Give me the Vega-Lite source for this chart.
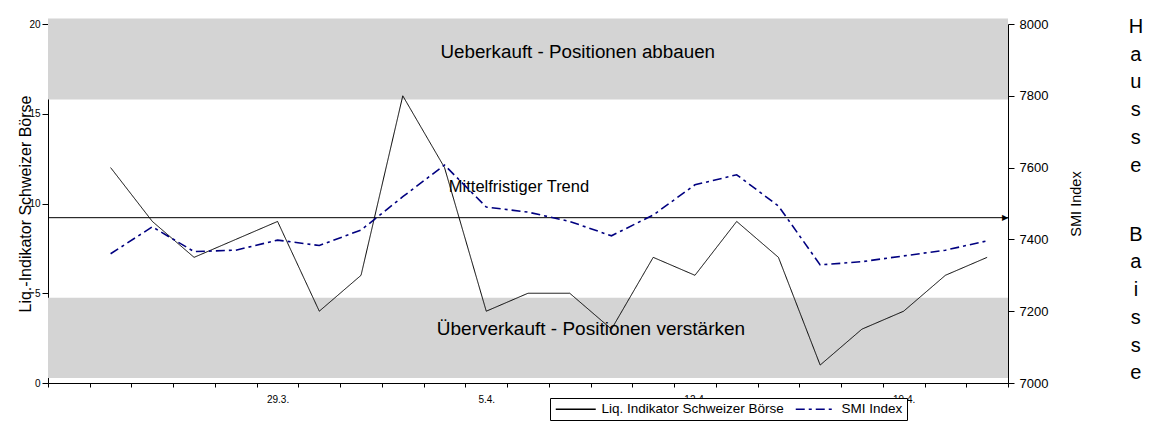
{
  "$schema": "https://vega.github.io/schema/vega-lite/v6.json",
  "width": 960,
  "height": 359,
  "autosize": {"type": "none"},
  "padding": {"left": 48, "top": 24, "right": 165, "bottom": 42},
  "background": "white",
  "config": {
    "font": "Liberation Sans",
    "view": {"stroke": null},
    "axis": {"domainColor": "black", "tickColor": "black", "labelColor": "black", "titleColor": "black", "grid": false, "titleFontWeight": "normal", "labelFont": "Liberation Sans", "titleFont": "Liberation Sans"},
    "legend": {
      "orient": "none", "legendX": 502, "legendY": 374, "direction": "horizontal",
      "strokeColor": "black", "fillColor": "white", "padding": 4, "cornerRadius": 0,
      "labelFontSize": 13.5, "labelColor": "black", "labelLimit": 400, "labelOffset": 34,
      "symbolType": "M-1,0H7", "symbolSize": 100, "symbolStrokeWidth": 1.5, "columnPadding": 8
    }
  },
  "title": {
    "text": ["H", "\u200b", "a", "\u200b", "u", "\u200b", "s", "\u200b", "s", "\u200b", "e", "\u200b", "\u200b", "\u200b", "\u200b", "B", "\u200b", "a", "\u200b", "i", "\u200b", "s", "\u200b", "s", "\u200b", "e"],
    "orient": "right", "anchor": "start", "frame": "group", "angle": 0, "align": "center", "baseline": "top",
    "lineHeight": 13.85, "fontSize": 20, "fontWeight": "normal", "font": "Liberation Sans", "color": "black",
    "offset": 38, "dy": -7
  },
  "datasets": {
    "series": [
      {"date": "23.3.", "series": "Liq. Indikator Schweizer Börse", "value": 12},
      {"date": "24.3.", "series": "Liq. Indikator Schweizer Börse", "value": 9},
      {"date": "25.3.", "series": "Liq. Indikator Schweizer Börse", "value": 7},
      {"date": "26.3.", "series": "Liq. Indikator Schweizer Börse", "value": 8},
      {"date": "29.3.", "series": "Liq. Indikator Schweizer Börse", "value": 9},
      {"date": "30.3.", "series": "Liq. Indikator Schweizer Börse", "value": 4},
      {"date": "31.3.", "series": "Liq. Indikator Schweizer Börse", "value": 6},
      {"date": "1.4.", "series": "Liq. Indikator Schweizer Börse", "value": 16},
      {"date": "2.4.", "series": "Liq. Indikator Schweizer Börse", "value": 12},
      {"date": "5.4.", "series": "Liq. Indikator Schweizer Börse", "value": 4},
      {"date": "6.4.", "series": "Liq. Indikator Schweizer Börse", "value": 5},
      {"date": "7.4.", "series": "Liq. Indikator Schweizer Börse", "value": 5},
      {"date": "8.4.", "series": "Liq. Indikator Schweizer Börse", "value": 3},
      {"date": "9.4.", "series": "Liq. Indikator Schweizer Börse", "value": 7},
      {"date": "12.4.", "series": "Liq. Indikator Schweizer Börse", "value": 6},
      {"date": "13.4.", "series": "Liq. Indikator Schweizer Börse", "value": 9},
      {"date": "14.4.", "series": "Liq. Indikator Schweizer Börse", "value": 7},
      {"date": "15.4.", "series": "Liq. Indikator Schweizer Börse", "value": 1},
      {"date": "16.4.", "series": "Liq. Indikator Schweizer Börse", "value": 3},
      {"date": "19.4.", "series": "Liq. Indikator Schweizer Börse", "value": 4},
      {"date": "20.4.", "series": "Liq. Indikator Schweizer Börse", "value": 6},
      {"date": "21.4.", "series": "Liq. Indikator Schweizer Börse", "value": 7},
      {"date": "23.3.", "series": "SMI Index", "value": 7360},
      {"date": "24.3.", "series": "SMI Index", "value": 7435},
      {"date": "25.3.", "series": "SMI Index", "value": 7366},
      {"date": "26.3.", "series": "SMI Index", "value": 7370},
      {"date": "29.3.", "series": "SMI Index", "value": 7398},
      {"date": "30.3.", "series": "SMI Index", "value": 7383},
      {"date": "31.3.", "series": "SMI Index", "value": 7426},
      {"date": "1.4.", "series": "SMI Index", "value": 7519},
      {"date": "2.4.", "series": "SMI Index", "value": 7607},
      {"date": "5.4.", "series": "SMI Index", "value": 7490},
      {"date": "6.4.", "series": "SMI Index", "value": 7476},
      {"date": "7.4.", "series": "SMI Index", "value": 7450},
      {"date": "8.4.", "series": "SMI Index", "value": 7410},
      {"date": "9.4.", "series": "SMI Index", "value": 7468},
      {"date": "12.4.", "series": "SMI Index", "value": 7552},
      {"date": "13.4.", "series": "SMI Index", "value": 7580},
      {"date": "14.4.", "series": "SMI Index", "value": 7493},
      {"date": "15.4.", "series": "SMI Index", "value": 7329},
      {"date": "16.4.", "series": "SMI Index", "value": 7338},
      {"date": "19.4.", "series": "SMI Index", "value": 7354},
      {"date": "20.4.", "series": "SMI Index", "value": 7370},
      {"date": "21.4.", "series": "SMI Index", "value": 7396}
    ],
    "zones": [
      {"zone": "Ueberkauft", "lo": 15.8, "hi": 20.3},
      {"zone": "Überverkauft", "lo": 0.28, "hi": 4.75}
    ]
  },
  "encoding": {
    "x": {
      "field": "date", "type": "ordinal",
      "scale": {"domain": ["22.3.", "23.3.", "24.3.", "25.3.", "26.3.", "29.3.", "30.3.", "31.3.", "1.4.", "2.4.", "5.4.", "6.4.", "7.4.", "8.4.", "9.4.", "12.4.", "13.4.", "14.4.", "15.4.", "16.4.", "19.4.", "20.4.", "21.4."], "paddingInner": 0, "paddingOuter": 0},
      "axis": {"title": null, "tickBand": "extent", "labelAngle": 0, "labelAlign": "center", "labelFontSize": 10, "labelPadding": 7, "tickSize": 4,
               "labelExpr": "indexof(['29.3.','5.4.','12.4.','19.4.'], datum.value) >= 0 ? datum.value : ''"}
    }
  },
  "layer": [
    {
      "layer": [
        {
          "data": {"name": "zones"},
          "mark": {"type": "rect", "fill": "#d4d4d4"},
          "encoding": {
            "x": null,
            "y": {"field": "lo", "type": "quantitative"},
            "y2": {"field": "hi"}
          }
        },
        {
          "data": {"name": "series"},
          "transform": [{"filter": "datum.series === 'Liq. Indikator Schweizer Börse'"}],
          "mark": {"type": "line", "strokeWidth": 1},
          "encoding": {
            "y": {"field": "value", "type": "quantitative"},
            "color": {"field": "series", "type": "nominal", "legend": {"title": null}, "scale": {"domain": ["Liq. Indikator Schweizer Börse", "SMI Index"], "range": ["black", "#000080"]}},
            "strokeDash": {"field": "series", "type": "nominal", "legend": {"title": null}, "scale": {"domain": ["Liq. Indikator Schweizer Börse", "SMI Index"], "range": [[1, 0], [9, 4, 3, 4]]}}
          }
        },
        {
          "data": {"values": [{"t": 9.21}]},
          "mark": {"type": "rule", "color": "black", "strokeWidth": 1},
          "encoding": {"x": null, "y": {"field": "t", "type": "quantitative"}}
        },
        {
          "data": {"values": [{"date": "21.4.", "t": 9.21, "arrow": "▶"}]},
          "mark": {"type": "text", "font": "DejaVu Sans", "fontSize": 8, "color": "black", "align": "right", "baseline": "middle", "dx": 21},
          "encoding": {"x": {"field": "date", "type": "ordinal"}, "y": {"field": "t", "type": "quantitative"}, "text": {"field": "arrow"}}
        },
        {
          "data": {"values": [{"date": "7.4.", "v": 18.1, "label": "Ueberkauft - Positionen abbauen"}]},
          "mark": {"type": "text", "fontSize": 18.8, "color": "black", "align": "center", "baseline": "alphabetic", "dx": 8},
          "encoding": {"x": {"field": "date", "type": "ordinal"}, "y": {"field": "v", "type": "quantitative"}, "text": {"field": "label"}}
        },
        {
          "data": {"values": [{"date": "6.4.", "v": 10.64, "label": "Mittelfristiger Trend"}]},
          "mark": {"type": "text", "fontSize": 16.5, "color": "black", "align": "center", "baseline": "alphabetic", "dx": -9},
          "encoding": {"x": {"field": "date", "type": "ordinal"}, "y": {"field": "v", "type": "quantitative"}, "text": {"field": "label"}}
        },
        {
          "data": {"values": [{"date": "8.4.", "v": 2.65, "label": "Überverkauft - Positionen verstärken"}]},
          "mark": {"type": "text", "fontSize": 19, "color": "black", "align": "center", "baseline": "alphabetic", "dx": -20.5},
          "encoding": {"x": {"field": "date", "type": "ordinal"}, "y": {"field": "v", "type": "quantitative"}, "text": {"field": "label"}}
        }
      ],
      "encoding": {
        "y": {
          "type": "quantitative",
          "scale": {"domain": [0, 20], "nice": false},
          "axis": {"title": "Liq.-Indikator Schweizer Börse", "values": [0, 5, 10, 15, 20], "format": "d", "labelFontSize": 10, "tickSize": 6, "labelPadding": 2, "titleFontSize": 16, "titlePadding": -5, "orient": "left"}
        }
      }
    },
    {
      "data": {"name": "series"},
      "transform": [{"filter": "datum.series === 'SMI Index'"}],
      "mark": {"type": "line", "strokeWidth": 1.6},
      "encoding": {
        "y": {
          "field": "value", "type": "quantitative",
          "scale": {"domain": [7000, 8000], "nice": false, "zero": false},
          "axis": {"title": "SMI Index", "orient": "right", "values": [7000, 7200, 7400, 7600, 7800, 8000], "format": "d", "labelFontSize": 13, "tickSize": 6, "labelPadding": 5, "titleFontSize": 14.5, "titleAngle": 270, "titleBaseline": "top", "titlePadding": 22}
        },
        "color": {"field": "series", "type": "nominal", "legend": {"title": null}},
        "strokeDash": {"field": "series", "type": "nominal", "legend": {"title": null}}
      }
    }
  ],
  "resolve": {"scale": {"y": "independent"}, "axis": {"y": "independent"}}
}
